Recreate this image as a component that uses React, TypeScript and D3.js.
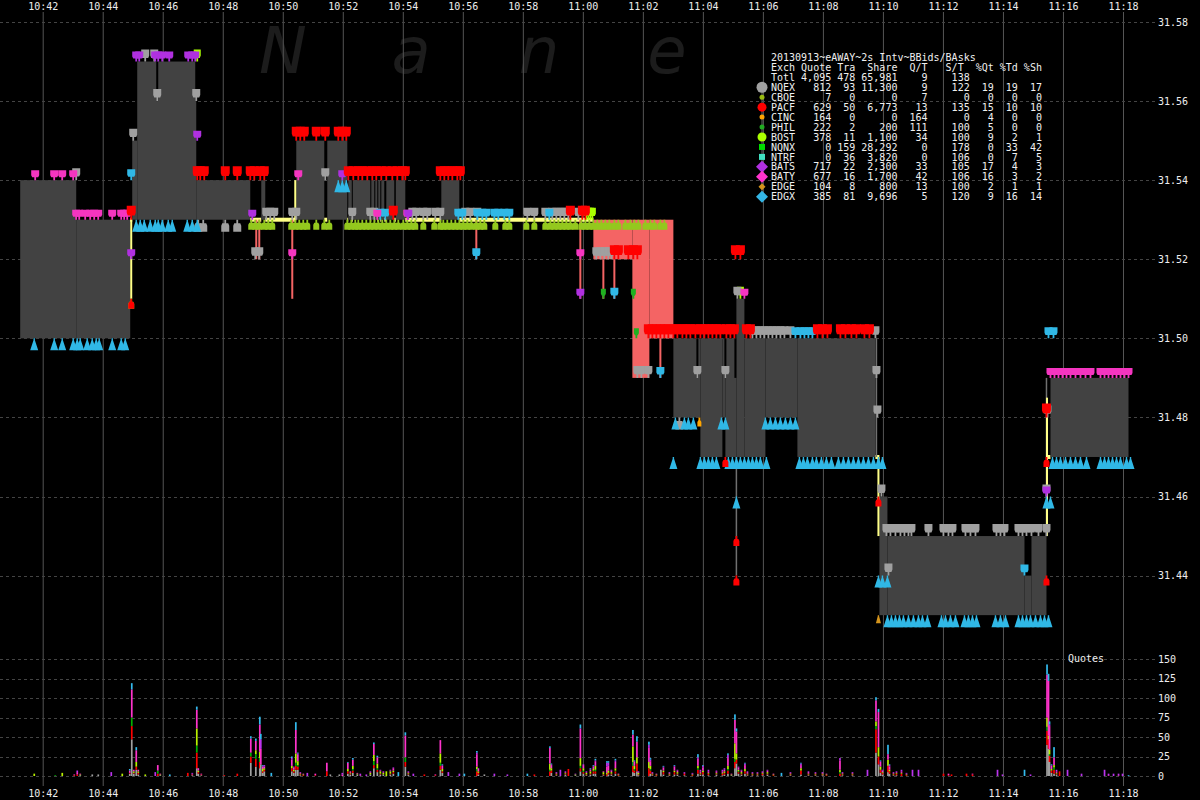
import React from "react";
import * as d3 from "d3";

// ---------- DATA ----------
// times are seconds after 10:40:00 on 2013-09-13
const BASE = new Date(2013, 8, 13, 10, 40, 0).getTime();

const timeTicksStart = "10:42";
const timeTicksEnd = "11:18";
const priceTicks = [31.44, 31.46, 31.48, 31.5, 31.52, 31.54, 31.56, 31.58];
const quoteTicks = [0, 25, 50, 75, 100, 125, 150];

// NBBO step series
const nbboT = [74, 186, 294, 298, 308, 426, 534, 556, 564, 626, 682, 688, 728, 730, 737, 739, 774, 776, 782, 784, 788, 790, 794, 796, 802, 806, 822, 825, 844, 916, 952, 1220, 1298, 1332, 1380, 1434, 1478, 1484, 1506, 1522, 1564, 1628, 1784, 1792, 1808, 2082, 2096, 2126, 2134, 2290];
const nbboBid = [31.5, 31.5, 31.53, 31.53, 31.53, 31.53, 31.53, 31.53, 31.53, 31.53, 31.53, 31.53, 31.53, 31.53, 31.53, 31.53, 31.53, 31.53, 31.53, 31.53, 31.53, 31.53, 31.53, 31.53, 31.53, 31.53, 31.53, 31.53, 31.53, 31.53, 31.53, 31.53, 31.53, 31.53, 31.48, 31.47, 31.48, 31.47, 31.47, 31.47, 31.48, 31.47, 31.47, 31.43, 31.43, 31.43, 31.43, 31.47, 31.47, 31.47];
const nbboAsk = [31.54, 31.53, 31.53, 31.55, 31.57, 31.54, 31.53, 31.54, 31.53, 31.55, 31.53, 31.55, 31.53, 31.54, 31.53, 31.54, 31.53, 31.54, 31.53, 31.54, 31.53, 31.54, 31.53, 31.54, 31.53, 31.54, 31.53, 31.54, 31.53, 31.54, 31.53, 31.52, 31.49, 31.5, 31.5, 31.5, 31.5, 31.5, 31.51, 31.5, 31.5, 31.5, 31.47, 31.46, 31.45, 31.44, 31.45, 31.47, 31.49, 31.49];

// connector lines [t, p1, p2]
const yellowLines = [[296, 31.53, 31.51], [624, 31.54, 31.53], [1790, 31.47, 31.45], [2127, 31.485, 31.45]];
const salmonLines = [[546, 31.53, 31.52], [552, 31.53, 31.52], [618, 31.53, 31.51], [986, 31.53, 31.52], [1194, 31.53, 31.51], [1240, 31.52, 31.51], [1262, 31.52, 31.51], [1354, 31.5, 31.49]];
const darkLines = [[348, 31.57, 31.56], [426, 31.57, 31.56], [1428, 31.5, 31.49], [1484, 31.5, 31.49], [1504, 31.5, 31.49]];
const grayLines = [[1786, 31.5, 31.47], [2126, 31.49, 31.45], [1506, 31.47, 31.44]];

// quote markers [t, price]
const nqexAsks = [[186, 31.54], [684, 31.54], [300, 31.55], [324, 31.57], [342, 31.57], [348, 31.56], [426, 31.56],
  [566, 31.53], [574, 31.53], [582, 31.53], [618, 31.53], [626, 31.53], [738, 31.53], [774, 31.53], [782, 31.53], [858, 31.53], [866, 31.53], [880, 31.53], [888, 31.53], [904, 31.53], [914, 31.53], [964, 31.53], [974, 31.53], [988, 31.53], [1088, 31.53], [1102, 31.53], [1124, 31.53], [1138, 31.53], [1146, 31.53], [1154, 31.53], [1162, 31.53], [1170, 31.53], [1190, 31.53],
  [544, 31.52], [552, 31.52], [1226, 31.52], [1234, 31.52], [1242, 31.52], [1250, 31.52], [1256, 31.52],
  [1538, 31.5], [1546, 31.5], [1554, 31.5], [1562, 31.5], [1570, 31.5], [1578, 31.5], [1586, 31.5], [1594, 31.5], [1602, 31.5], [1614, 31.5], [1784, 31.5],
  [1308, 31.49], [1316, 31.49], [1330, 31.49], [1428, 31.49], [1484, 31.49], [1786, 31.49], [1508, 31.51],
  [1806, 31.45], [1814, 31.45], [1824, 31.45], [1834, 31.45], [1842, 31.45], [1850, 31.45], [1856, 31.45], [1890, 31.45], [1920, 31.45], [1930, 31.45], [1938, 31.45], [1964, 31.45], [1974, 31.45], [1984, 31.45], [2026, 31.45], [2034, 31.45], [2042, 31.45], [2070, 31.45], [2078, 31.45], [2086, 31.45], [2096, 31.45], [2110, 31.45],
  [1796, 31.46], [2126, 31.46], [1810, 31.44], [1788, 31.48], [2128, 31.48], [2126, 31.45]];
const nqexBids = [[430, 31.53], [440, 31.53], [484, 31.53], [508, 31.53], [1392, 31.48]];

const pacfAsks = [[296, 31.53], [820, 31.53], [1174, 31.53], [1198, 31.53], [1204, 31.53],
  [428, 31.54], [434, 31.54], [442, 31.54], [484, 31.54], [508, 31.54], [534, 31.54], [542, 31.54], [554, 31.54], [562, 31.54], [730, 31.54], [740, 31.54], [750, 31.54], [758, 31.54], [768, 31.54], [778, 31.54], [786, 31.54], [796, 31.54], [806, 31.54], [818, 31.54], [828, 31.54], [838, 31.54], [844, 31.54], [914, 31.54], [922, 31.54], [930, 31.54], [938, 31.54], [948, 31.54], [954, 31.54],
  [626, 31.55], [634, 31.55], [642, 31.55], [666, 31.55], [684, 31.55], [710, 31.55], [718, 31.55], [726, 31.55],
  [1262, 31.52], [1270, 31.52], [1290, 31.52], [1300, 31.52], [1308, 31.52], [1504, 31.52], [1514, 31.52],
  [1330, 31.5], [1338, 31.5], [1346, 31.5], [1354, 31.5], [1362, 31.5], [1370, 31.5], [1380, 31.5], [1388, 31.5], [1398, 31.5], [1406, 31.5], [1414, 31.5], [1424, 31.5], [1434, 31.5], [1442, 31.5], [1450, 31.5], [1458, 31.5], [1466, 31.5], [1474, 31.5], [1486, 31.5], [1494, 31.5], [1502, 31.5], [1526, 31.5], [1534, 31.5], [1668, 31.5], [1678, 31.5], [1688, 31.5], [1714, 31.5], [1724, 31.5], [1736, 31.5], [1746, 31.5], [1762, 31.5], [1772, 31.5],
  [2126, 31.48]];
const pacfBids = [[1506, 31.45], [1506, 31.44], [2126, 31.44], [2126, 31.47], [1790, 31.46], [296, 31.51], [1484, 31.47]];

const batyAsks = [[104, 31.54], [142, 31.54], [158, 31.54], [180, 31.54], [630, 31.54],
  [186, 31.53], [192, 31.53], [204, 31.53], [214, 31.53], [222, 31.53], [230, 31.53], [258, 31.53], [276, 31.53], [282, 31.53], [288, 31.53], [788, 31.53], [848, 31.53],
  [618, 31.52], [1194, 31.52], [1522, 31.51],
  [2134, 31.49], [2142, 31.49], [2150, 31.49], [2158, 31.49], [2166, 31.49], [2174, 31.49], [2184, 31.49], [2194, 31.49], [2204, 31.49], [2214, 31.49], [2234, 31.49], [2242, 31.49], [2250, 31.49], [2258, 31.49], [2266, 31.49], [2274, 31.49], [2282, 31.49], [2290, 31.49]];

const batsAsks = [[306, 31.57], [312, 31.57], [344, 31.57], [350, 31.57], [358, 31.57], [372, 31.57], [410, 31.57], [418, 31.57], [424, 31.57],
  [428, 31.55], [718, 31.54], [538, 31.53], [850, 31.53], [296, 31.52], [1194, 31.51], [2126, 31.46]];

const edgxBids = [[102, 31.5], [142, 31.5], [158, 31.5], [180, 31.5], [188, 31.5], [194, 31.5], [208, 31.5], [218, 31.5], [226, 31.5], [232, 31.5], [258, 31.5], [276, 31.5], [284, 31.5],
  [306, 31.53], [314, 31.53], [322, 31.53], [334, 31.53], [344, 31.53], [350, 31.53], [358, 31.53], [370, 31.53], [378, 31.53], [408, 31.53], [418, 31.53], [428, 31.53],
  [710, 31.54], [718, 31.54], [726, 31.54],
  [1384, 31.48], [1402, 31.48], [1410, 31.48], [1420, 31.48], [1476, 31.48], [1484, 31.48], [1564, 31.48], [1574, 31.48], [1584, 31.48], [1594, 31.48], [1604, 31.48], [1614, 31.48], [1624, 31.48],
  [1380, 31.47], [1434, 31.47], [1442, 31.47], [1450, 31.47], [1458, 31.47], [1466, 31.47], [1490, 31.47], [1498, 31.47], [1506, 31.47], [1514, 31.47], [1522, 31.47], [1530, 31.47], [1538, 31.47], [1546, 31.47], [1554, 31.47], [1566, 31.47], [1632, 31.47], [1640, 31.47], [1648, 31.47], [1658, 31.47], [1666, 31.47], [1676, 31.47], [1686, 31.47], [1696, 31.47], [1710, 31.47], [1720, 31.47], [1730, 31.47], [1740, 31.47], [1750, 31.47], [1760, 31.47], [1770, 31.47], [1780, 31.47], [1790, 31.47], [1798, 31.47],
  [1790, 31.44], [1798, 31.44], [1808, 31.44],
  [1808, 31.43], [1816, 31.43], [1824, 31.43], [1832, 31.43], [1840, 31.43], [1850, 31.43], [1860, 31.43], [1870, 31.43], [1878, 31.43], [1888, 31.43], [1916, 31.43], [1924, 31.43], [1934, 31.43], [1944, 31.43], [1962, 31.43], [1970, 31.43], [1978, 31.43], [1986, 31.43], [2024, 31.43], [2034, 31.43], [2044, 31.43], [2070, 31.43], [2078, 31.43], [2086, 31.43], [2094, 31.43], [2104, 31.43], [2114, 31.43], [2122, 31.43], [2130, 31.43],
  [2126, 31.46], [2134, 31.46], [1506, 31.46],
  [2138, 31.47], [2146, 31.47], [2154, 31.47], [2164, 31.47], [2174, 31.47], [2184, 31.47], [2194, 31.47], [2206, 31.47], [2234, 31.47], [2242, 31.47], [2250, 31.47], [2258, 31.47], [2266, 31.47], [2274, 31.47], [2286, 31.47], [2294, 31.47]];
const edgxAsks = [[794, 31.53], [804, 31.53], [950, 31.53], [958, 31.53], [988, 31.53], [998, 31.53], [1006, 31.53], [1022, 31.53], [1030, 31.53], [1042, 31.53], [1052, 31.53], [1132, 31.53],
  [1624, 31.5], [1634, 31.5], [1642, 31.5], [1650, 31.5], [1658, 31.5], [2130, 31.5], [2140, 31.5],
  [986, 31.52], [1262, 31.51], [2082, 31.44], [1354, 31.49], [296, 31.54]];

const bostBids = [536, 544, 552, 562, 570, 578, 616, 624, 632, 640, 648, 666, 682, 692, 728, 736, 744, 750, 758, 766, 774, 782, 790, 798, 806, 814, 822, 830, 840, 848, 856, 864, 880, 902, 914, 920, 928, 936, 944, 952, 960, 968, 976, 986, 994, 1002, 1024, 1044, 1052, 1086, 1102, 1124, 1134, 1142, 1150, 1158, 1166, 1174, 1184, 1196, 1204, 1212, 1220, 1228, 1236, 1244, 1252, 1262, 1270, 1284, 1294, 1302, 1310, 1324, 1334, 1342, 1354, 1362].map((t) => [t, 31.53]).concat([[296, 31.51]]);
const bostAsks = [[1206, 31.53], [1210, 31.53], [1214, 31.53], [1218, 31.53], [428, 31.57], [1514, 31.51]];
const philAsks = [[1240, 31.51], [1300, 31.51], [1306, 31.5]];
const cincBids = [[1432, 31.48]];
const edgeBids = [[1790, 31.43]];

// quote count histogram: [t, NQEX, PACF, PHIL, BOST, BATY, BATS, EDGX]
const quoteBars = [
  [102,0,0,0,3,0,0,0],[144,0,0,1,0,0,0,0],[158,0,0,0,4,0,0,0],[182,0,1,0,0,1,0,0],[188,0,2,0,0,3,2,0],[194,1,0,0,1,1,0,0],[218,2,0,0,0,0,0,0],[230,2,0,0,0,0,0,0],[256,0,0,0,0,0,5,0],[278,0,0,0,3,0,0,0],
  [293,3,1,0,0,3,0,2],[297,47,17,11,0,36,0,8],[301,3,1,0,2,2,0,0],[306,8,4,0,6,15,0,4],[310,2,2,0,2,2,0,0],[324,0,0,0,2,0,0,0],[344,0,0,0,0,0,5,0],[349,0,3,4,0,7,0,0],[354,1,0,0,1,1,0,0],[373,0,0,0,0,0,0,2],
  [409,0,4,0,0,0,0,0],[418,1,1,0,0,1,1,0],[427,10,20,9,22,24,0,4],[430,3,2,0,2,3,0,0],[436,1,1,0,0,1,0,0],[482,0,1,0,0,0,0,0],[508,0,3,0,0,0,0,0],[535,17,8,5,0,18,0,3],[545,12,10,6,5,12,0,3],[553,10,8,5,8,35,0,10],
  [555,15,0,0,0,20,12,7],[559,4,2,0,3,3,1,1],[562,6,2,0,2,2,2,0],[576,0,0,0,0,0,0,4],[617,6,4,0,3,8,2,2],[621,4,2,0,2,3,1,0],[625,8,5,4,12,30,0,10],[629,8,4,2,5,8,2,1],[634,1,1,0,1,1,1,0],[640,0,1,0,1,1,0,0],
  [648,0,0,0,0,0,4,0],[664,0,1,0,0,2,0,0],[687,0,6,0,0,11,0,0],[694,2,0,0,0,0,0,0],[712,2,0,0,0,0,0,0],[718,0,0,0,0,2,2,0],[729,3,3,0,3,8,0,1],[734,2,1,0,1,2,0,0],[739,4,3,2,4,8,0,2],[748,2,0,0,1,1,0,0],
  [754,0,0,0,0,1,2,0],[766,0,0,0,0,0,2,0],[774,2,0,0,2,1,1,0],[781,10,4,5,8,14,0,2],[788,5,3,2,6,8,0,2],[794,2,1,0,3,1,1,0],[800,2,0,0,2,1,1,0],[806,0,0,0,6,0,0,0],[814,2,1,0,3,1,1,0],[820,3,2,0,2,3,1,0],
  [830,0,0,0,0,0,0,5],[844,12,6,6,0,28,0,4],[850,2,1,0,1,1,1,0],[860,0,0,0,0,0,3,0],[882,0,2,0,0,0,0,0],[904,0,1,0,0,1,0,0],[914,8,5,4,12,17,0,0],[918,4,2,0,3,4,1,1],[930,0,0,0,0,0,5,0],[952,0,0,0,0,0,3,0],
  [962,0,0,0,0,0,0,3],[987,0,6,3,3,16,2,2],[990,2,2,0,2,3,1,0],[1002,2,0,0,0,0,0,0],[1022,0,0,0,0,0,3,0],[1048,0,0,0,0,0,2,0],[1088,0,0,0,0,0,0,3],[1102,0,2,0,0,0,0,0],[1133,0,6,2,8,20,0,2],[1136,4,3,0,3,4,1,1],
  [1146,1,1,0,1,1,1,0],[1154,0,0,0,0,0,8,0],[1164,2,1,0,1,1,1,0],[1170,0,9,0,0,0,0,0],[1184,1,0,0,1,0,1,0],[1194,6,4,3,10,38,0,5],[1200,3,2,2,3,4,1,0],[1206,1,1,0,2,1,1,0],[1214,2,1,0,3,2,1,1],[1220,3,3,1,2,3,1,1],
  [1224,3,3,2,5,6,1,2],[1240,1,1,0,3,1,0,0],[1247,0,2,0,2,8,5,2],[1250,2,2,0,3,6,4,2],[1256,2,1,0,2,2,1,0],[1264,3,3,1,3,8,2,2],[1270,0,1,0,1,1,0,0],[1299,5,8,5,20,15,0,6],[1302,4,3,2,4,5,1,1],[1307,6,10,0,8,20,0,7],
  [1310,1,1,0,2,1,1,0],[1331,0,10,0,8,18,4,4],[1334,3,4,2,4,6,2,2],[1338,1,1,0,1,1,1,0],[1346,0,1,0,1,1,0,0],[1355,8,0,0,0,0,0,0],[1360,2,3,0,2,4,1,1],[1372,1,1,0,1,1,1,0],[1382,2,3,0,2,5,1,1],[1388,2,1,0,2,2,1,0],
  [1402,1,2,0,0,1,1,0],[1418,0,1,0,1,1,1,0],[1429,3,5,2,3,9,2,4],[1434,2,1,0,1,2,2,0],[1439,2,3,0,2,4,2,1],[1450,1,2,0,1,2,2,0],[1466,2,1,0,1,2,1,0],[1478,1,2,0,1,2,2,0],[1482,2,2,0,2,2,2,0],[1489,3,4,2,4,10,4,2],
  [1496,1,0,0,1,1,0,0],[1503,10,8,4,20,30,0,7],[1506,16,5,0,8,28,0,4],[1510,3,2,1,2,3,1,0],[1516,2,1,0,2,2,1,0],[1523,3,3,0,3,5,2,1],[1528,1,1,0,1,2,1,0],[1538,1,1,0,1,1,1,0],[1548,1,1,0,1,1,1,0],[1558,1,2,0,1,1,1,0],
  [1568,2,1,0,2,2,1,0],[1580,0,1,0,1,1,0,0],[1596,0,0,0,0,0,0,4],[1614,1,1,0,1,1,1,0],[1635,2,5,0,3,4,2,1],[1650,1,1,0,1,2,1,0],[1664,1,1,0,1,1,1,0],[1678,1,1,0,1,1,1,0],[1686,0,1,0,1,1,0,0],[1713,0,3,2,3,12,3,0],
  [1718,1,1,0,1,1,1,0],[1738,1,1,0,1,1,1,0],[1768,0,0,0,0,0,8,0],[1785,30,30,4,6,27,0,4],[1790,15,10,0,12,45,0,4],[1794,4,4,0,4,6,1,1],[1798,2,2,0,1,2,1,0],[1809,5,8,0,8,7,0,12],[1812,3,3,0,2,4,2,1],[1820,1,1,0,1,1,1,0],
  [1826,1,2,0,1,1,1,0],[1836,0,3,0,1,2,2,0],[1846,0,1,0,1,1,1,0],[1858,0,0,0,0,0,8,0],[1870,0,0,0,0,0,8,0],[1920,0,3,0,0,0,0,0],[1930,0,1,0,0,2,0,0],[1936,0,2,0,0,0,0,0],[1966,0,3,0,0,0,0,0],[1978,0,2,0,0,1,0,0],
  [2028,0,0,0,0,0,8,0],[2038,0,0,0,0,0,2,0],[2082,0,0,0,0,0,0,8],[2094,0,0,0,0,0,2,0],[2127,40,18,5,12,55,0,13],[2130,35,12,0,5,70,0,9],[2132,18,8,2,6,30,2,4],[2136,4,3,0,2,4,1,1],[2141,3,5,3,3,10,0,13],[2146,2,1,0,1,2,2,0],
  [2152,0,6,0,0,0,0,0],[2168,0,0,0,0,0,8,0],[2196,0,0,0,0,0,3,0],[2242,0,0,0,0,0,8,0],[2250,0,0,0,0,1,2,0],[2260,0,0,0,0,0,3,0],[2270,0,0,0,0,1,2,0],[2278,0,0,0,0,0,3,0],[2290,0,0,0,0,0,0,1],
];
const barColors = ["#a0a0a0", "#ff0000", "#00b000", "#b8f000", "#ff33cc", "#bb33ee", "#33bbee"];

// legend table
const legendTitle = "20130913~eAWAY~2s Intv~BBids/BAsks";
const legendHeader = "Exch Quote Tra  Share  Q/T   S/T  %Qt %Td %Sh";
const exchNames = ["NQEX", "CBOE", "PACF", "CINC", "PHIL", "BOST", "NQNX", "NTRF", "BATS", "BATY", "EDGE", "EDGX"];
const exchQuote = [812, 7, 629, 164, 222, 378, 0, 0, 717, 677, 104, 385];
const exchTra = [93, 0, 50, 0, 2, 11, 159, 36, 22, 16, 8, 81];
const exchShare = [11300, 0, 6773, 0, 200, 1100, 28292, 3820, 2300, 1700, 800, 9696];
const exchQT = [9, 7, 13, 164, 111, 34, 0, 0, 33, 42, 13, 5];
const exchST = [122, 0, 135, 0, 100, 100, 178, 106, 105, 106, 100, 120];
const exchPQt = [19, 0, 15, 4, 5, 9, 0, 0, 17, 16, 2, 9];
const exchPTd = [19, 0, 10, 0, 0, 2, 33, 7, 4, 3, 1, 16];
const exchPSh = [17, 0, 10, 0, 0, 1, 42, 5, 3, 2, 1, 14];
const totals = [4095, 478, 65981, 9, 138];
const exchIcon = ["circle", "circle", "circle", "circle", "circle", "circle", "square", "square", "diamond", "diamond", "diamond", "diamond"];
const exchIconSize = [5.5, 2.5, 4.5, 2.5, 2.5, 4.5, 3, 3, 6, 6, 3.5, 6];
const exchColor = ["#a0a0a0", "#99bb11", "#ff0000", "#ffa500", "#22aa22", "#aaff00", "#00dd00", "#40e0c0", "#b030e0", "#ff33cc", "#d4941c", "#33b5e5"];

const watermark = ["N", "a", "n", "e"];

// ---------- COMPONENT ----------
const MONO = "'DejaVu Sans Mono', monospace";

function markerPoints(cx: number, cy: number, w: number, h: number, dir: number, tri: boolean) {
  const y1 = cy + dir * h;
  if (tri) {
    const yn = cy + dir * h * 0.15;
    return [[cx - 0.7, cy], [cx + 0.7, cy], [cx + 0.7, yn], [cx + w / 2, y1], [cx - w / 2, y1], [cx - 0.7, yn]];
  }
  const ys = cy + dir * h * 0.5;
  const yn = cy + dir * h * 0.3;
  return [[cx - 0.9, cy], [cx + 0.9, cy], [cx + 0.9, yn], [cx + w / 2 - 1, yn], [cx + w / 2, ys], [cx + w / 2, y1], [cx - w / 2, y1], [cx - w / 2, ys], [cx - w / 2 + 1, yn], [cx - 0.9, yn]];
}

export default function App() {
  const tDate = (s: number) => new Date(BASE + s * 1000);
  const parse = d3.timeParse("%Y-%m-%d %H:%M");
  const x = d3.scaleTime()
    .domain([parse("2013-09-13 " + timeTicksStart)!, parse("2013-09-13 " + timeTicksEnd)!])
    .range([43.2, 1123.5]);
  const xs = (s: number) => x(tDate(s));
  const y = d3.scaleLinear().domain([31.44, 31.58]).range([575.6, 22]);
  const q = d3.scaleLinear().domain([0, 150]).range([776, 659]);
  const timeTicks = x.ticks(d3.timeMinute.every(2)!);
  const fmtT = d3.timeFormat("%H:%M");
  const fmtC = d3.format(",");

  // NBBO segments
  const segs: React.ReactNode[] = [];
  for (let i = 0; i < nbboT.length - 1; i++) {
    const x0 = xs(nbboT[i]);
    const x1 = xs(nbboT[i + 1]);
    const b = nbboBid[i];
    const a = nbboAsk[i];
    if (Math.abs(a - b) < 1e-6) {
      segs.push(<line key={"s" + i} x1={x0} x2={x1} y1={y(b)} y2={y(b)} stroke="#ffff88" strokeWidth={4} />);
    } else if (a > b) {
      segs.push(<rect key={"s" + i} x={x0} width={x1 - x0} y={y(a)} height={y(b) - y(a)} fill="#424242" />);
    } else {
      segs.push(<rect key={"s" + i} x={x0} width={x1 - x0} y={y(b)} height={y(a) - y(b)} fill="#f46464" />);
    }
  }

  const groups = [
    { data: bostBids, color: "#94c81e", w: 6, h: 10, dir: 1, tri: false },
    { data: bostAsks, color: "#aaff00", w: 7, h: 12, dir: -1, tri: false },
    { data: nqexAsks, color: "#a0a0a0", w: 8, h: 12, dir: -1, tri: false },
    { data: nqexBids, color: "#a0a0a0", w: 8, h: 12, dir: 1, tri: false },
    { data: edgxBids, color: "#30b8e6", w: 8, h: 12, dir: 1, tri: true },
    { data: edgxAsks, color: "#30b8e6", w: 8, h: 11, dir: -1, tri: false },
    { data: batyAsks, color: "#f535c0", w: 8, h: 10, dir: -1, tri: false },
    { data: batsAsks, color: "#b030e0", w: 8, h: 10, dir: -1, tri: false },
    { data: philAsks, color: "#20b020", w: 5, h: 10, dir: -1, tri: false },
    { data: cincBids, color: "#ffa500", w: 4, h: 9, dir: 1, tri: false },
    { data: edgeBids, color: "#d4941c", w: 5, h: 8, dir: 1, tri: true },
    { data: pacfAsks, color: "#ff0000", w: 9, h: 14, dir: -1, tri: false },
    { data: pacfBids, color: "#ff0000", w: 6, h: 10, dir: 1, tri: false },
  ];

  const line = d3.line();

  const legendRows = exchNames.map((n, i) =>
    n.padEnd(4) +
    String(exchQuote[i]).padStart(6) +
    String(exchTra[i]).padStart(4) +
    fmtC(exchShare[i]).padStart(7) +
    String(exchQT[i]).padStart(5) +
    String(exchST[i]).padStart(7) +
    String(exchPQt[i]).padStart(4) +
    String(exchPTd[i]).padStart(4) +
    String(exchPSh[i]).padStart(4)
  );
  const totalRow = "Totl" + fmtC(totals[0]).padStart(6) + String(totals[1]).padStart(4) + fmtC(totals[2]).padStart(7) + String(totals[3]).padStart(5) + String(totals[4]).padStart(7);
  const legendX = 771;
  const legendY0 = 61;
  const rowH = 9.95;

  return (
    <svg width={1200} height={800} style={{ position: "absolute", left: 0, top: 0, display: "block" }}>
      <rect x={0} y={0} width={1200} height={800} fill="#000" />
      {/* watermark */}
      {watermark.map((c, i) => (
        <text key={"w" + i} x={283 + i * 128} y={73} fontFamily="'DejaVu Sans', sans-serif" fontStyle="italic" fontSize={64} fill="#1c1c1c" textAnchor="middle">{c}</text>
      ))}
      {/* vertical grid */}
      {timeTicks.map((t, i) => (
        <line key={"vg" + i} x1={x(t)} x2={x(t)} y1={12} y2={786} stroke="#555" strokeWidth={1} />
      ))}
      {/* price grid */}
      {priceTicks.map((p, i) => (
        <line key={"pg" + i} x1={0} x2={1155} y1={Math.round(y(p)) + 0.5} y2={Math.round(y(p)) + 0.5} stroke="#444" strokeDasharray="3,3" />
      ))}
      {quoteTicks.map((c, i) => (
        <line key={"qg" + i} x1={0} x2={1155} y1={Math.round(q(c)) + 0.5} y2={Math.round(q(c)) + 0.5} stroke="#444" strokeDasharray="3,3" />
      ))}
      {/* NBBO */}
      {segs}
      {salmonLines.map((l, i) => (
        <path key={"sl" + i} d={line([[xs(l[0]), y(l[1])], [xs(l[0]), y(l[2])]])!} stroke="#f46464" strokeWidth={2} />
      ))}
      {darkLines.map((l, i) => (
        <path key={"dl" + i} d={line([[xs(l[0]), y(l[1])], [xs(l[0]), y(l[2])]])!} stroke="#000" strokeWidth={2} />
      ))}
      {grayLines.map((l, i) => (
        <path key={"gl" + i} d={line([[xs(l[0]), y(l[1])], [xs(l[0]), y(l[2])]])!} stroke="#707070" strokeWidth={1.5} />
      ))}
      {yellowLines.map((l, i) => (
        <path key={"yl" + i} d={line([[xs(l[0]), y(l[1])], [xs(l[0]), y(l[2])]])!} stroke="#ffff88" strokeWidth={2} />
      ))}
      {/* markers */}
      {groups.map((g, gi) => (
        <g key={"g" + gi} fill={g.color}>
          {g.data.map((d, i) => (
            <polygon key={i} points={markerPoints(xs(d[0]), y(d[1]), g.w, g.h, g.dir, g.tri).map((p) => p.join(",")).join(" ")} />
          ))}
        </g>
      ))}
      {/* quote histogram */}
      {quoteBars.map((b, i) => {
        let acc = 0;
        const bx = xs(b[0]) - 0.8;
        return (
          <g key={"qb" + i}>
            {b.slice(1).map((v, k) => {
              if (!v) return null;
              const y0 = q(acc);
              acc += v;
              const y1 = q(acc);
              return <rect key={k} x={bx} width={1.7} y={y1} height={y0 - y1} fill={barColors[k]} />;
            })}
          </g>
        );
      })}
      <text x={1068} y={662} fontFamily={MONO} fontSize={10} fill="#eee">Quotes</text>
      {/* time axis labels */}
      {timeTicks.map((t, i) => (
        <g key={"tl" + i}>
          <text x={x(t)} y={10} textAnchor="middle" fontFamily={MONO} fontSize={10} fill="#eee">{fmtT(t)}</text>
          <text x={x(t)} y={797} textAnchor="middle" fontFamily={MONO} fontSize={10} fill="#eee">{fmtT(t)}</text>
        </g>
      ))}
      {priceTicks.map((p, i) => (
        <text key={"pl" + i} x={1158} y={y(p) + 3.5} fontFamily={MONO} fontSize={10} fill="#eee">{p.toFixed(2)}</text>
      ))}
      {quoteTicks.map((c, i) => (
        <text key={"ql" + i} x={1158} y={q(c) + 3.5} fontFamily={MONO} fontSize={10} fill="#eee">{c}</text>
      ))}
      {/* legend */}
      <g fontFamily={MONO} fontSize={10} fill="#f0f0f0" style={{ whiteSpace: "pre" }}>
        <text x={legendX} y={legendY0} xmlSpace="preserve">{legendTitle}</text>
        <text x={legendX} y={legendY0 + rowH} xmlSpace="preserve">{legendHeader}</text>
        <text x={legendX} y={legendY0 + rowH * 2} xmlSpace="preserve">{totalRow}</text>
        {legendRows.map((r, i) => (
          <text key={"lr" + i} x={legendX} y={legendY0 + rowH * (3 + i)} xmlSpace="preserve">{r}</text>
        ))}
      </g>
      <line x1={762} x2={762} y1={legendY0 + rowH * 3 - 4} y2={legendY0 + rowH * 14 - 4} stroke="#666" strokeWidth={1} />
      {exchNames.map((n, i) => {
        const cy = legendY0 + rowH * (3 + i) - 3.6;
        const s = exchIconSize[i];
        const c = exchColor[i];
        if (exchIcon[i] === "circle") return <circle key={"ic" + i} cx={762} cy={cy} r={s} fill={c} />;
        if (exchIcon[i] === "square") return <rect key={"ic" + i} x={762 - s} y={cy - s} width={2 * s} height={2 * s} fill={c} />;
        return <polygon key={"ic" + i} points={`762,${cy - s} ${762 + s},${cy} 762,${cy + s} ${762 - s},${cy}`} fill={c} />;
      })}
    </svg>
  );
}
